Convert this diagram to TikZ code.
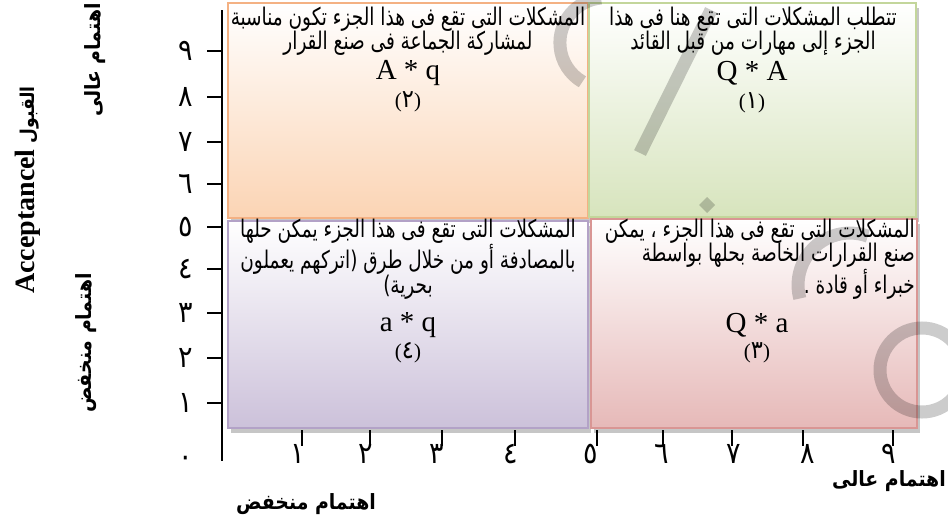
\documentclass[tikz,border=0pt]{standalone}
\usepackage{fontspec}
\setmainfont{Liberation Serif}
\newfontfamily\arabicfont[Script=Arabic,FakeStretch=0.9]{DejaVu Sans}
\newfontfamily\arabicnarrow[Script=Arabic,FakeStretch=0.76]{DejaVu Sans}
\newcommand{\tagdig}[1]{{\arabicfont\fontsize{25}{25}\selectfont #1}}
\TeXXeTstate=1
\usetikzlibrary{shadows}
\definecolor{peachline}{HTML}{F4B183}
\definecolor{peachfill}{HTML}{FBD4B4}
\definecolor{greenline}{HTML}{C3D69B}
\definecolor{greenfill}{HTML}{D7E4BD}
\definecolor{purpleline}{HTML}{B3A2C7}
\definecolor{purplefill}{HTML}{CCC1DA}
\definecolor{redline}{HTML}{D99694}
\definecolor{redfill}{HTML}{E6B9B8}
\begin{document}
\begin{tikzpicture}[x=1pt,y=-1pt,
  quad/.style={inner sep=0pt, outer sep=0pt, line width=2pt, top color=white, anchor=north west,
    general shadow={shadow xshift=3pt, shadow yshift=-5pt, fill=gray!45}},
  quadtext/.style={inner sep=0pt, align=center, font=\arabicnarrow\fontsize{24.3}{24.5}\selectfont},
  formula/.style={inner sep=0pt, font=\fontsize{29}{29}\selectfont},
  numtag/.style={inner sep=0pt, font=\fontsize{21}{21}\selectfont},
  ticklabel/.style={inner sep=0pt, font=\arabicfont\fontsize{30}{30}\selectfont},
  axislabel/.style={inner sep=0pt, font=\arabicfont\bfseries\fontsize{21}{21}\selectfont},
  axisline/.style={line width=1.5pt, black},
  wm/.style={line width=13pt, black, opacity=0.2}]
\useasboundingbox (0,0) rectangle (948,520);

% quadrants
\node[quad, bottom color=peachfill, draw=peachline, minimum width=360pt, minimum height=215pt] (q2) at (228,3) {};
\node[quad, bottom color=greenfill, draw=greenline, minimum width=327pt, minimum height=214pt] (q1) at (589,3) {};
\node[quad, bottom color=purplefill, draw=purpleline, minimum width=360pt, minimum height=207pt] (q4) at (228,221) {};
\node[quad, bottom color=redfill, draw=redline, minimum width=326pt, minimum height=209pt] (q3) at (591,219) {};

% watermark
\draw[wm] (601,-2) arc[start angle=265, end angle=120, radius=45];
\draw[wm] (711,10) -- (640,153);
\fill[black, opacity=0.2] (707,197) -- (715,205) -- (707,213) -- (699,205) -- cycle;
\draw[wm] (799.8,298.5) arc[start angle=165, end angle=290, radius=52];
\draw[wm] (922,370) circle[radius=42];

% vertical axis
\draw[axisline] (222,10) -- (222,461);
\foreach \yy in {51,97,142,184,227,269,313,358,403}
  \draw[axisline] (207,\yy) -- (222,\yy);
\foreach \yy/\d [count=\i] in {403/١,358/٢,313/٣,269/٤,227/٥,184/٦,142/٧,97/٨,51/٩}
  \node[ticklabel] (yl\i) at (186,\yy) {\d};
\node[ticklabel] (yl0) at (186,461) {٠};

% horizontal axis ticks
\foreach \xx in {302,370,442,515,597,663,732,803,893}
  \draw[axisline] (\xx,430) -- (\xx,446);
\foreach \xx/\d [count=\i] in {298/١,366/٢,437/٣,511/٤,591/٥,662/٦,734/٧,808/٨,889/٩}
  \node[ticklabel] (xl\i) at (\xx,454) {\d};

% quadrant texts
\node[quadtext] (t2) at (408,31) {\beginR المشكلات التى تقع فى هذا الجزء تكون مناسبة\endR\\\beginR لمشاركة الجماعة فى صنع القرار\endR};
\node[formula] (f2) at (408,73) {A * q};
\node[numtag] (n2) at (408,102) {(\tagdig{٢})};

\node[quadtext] (t1) at (753,31) {\beginR تتطلب المشكلات التى تقع هنا فى هذا\endR\\\beginR الجزء إلى مهارات من قبل القائد\endR};
\node[formula] (f1) at (752,73) {Q * A};
\node[numtag] (n1) at (752,103) {(\tagdig{١})};

\node[quadtext] (t4) at (408,259) {\beginR المشكلات التى تقع فى هذا الجزء يمكن حلها\endR\\\beginR بالمصادفة أو من خلال طرق (اتركهم يعملون\endR\\\beginR بحرية)\endR};
\node[formula] (f4) at (408,325) {a * q};
\node[numtag] (n4) at (408,353) {(\tagdig{٤})};

\node[quadtext, align=right, anchor=east] (t3) at (915,259) {\beginR المشكلات التى تقع فى هذا الجزء ، يمكن\endR\\\beginR صنع القرارات الخاصة بحلها بواسطة\endR\\\beginR خبراء أو قادة .\endR};
\node[formula] (f3) at (757,325) {Q * a};
\node[numtag] (n3) at (757,353) {(\tagdig{٣})};

% axis titles
\node[axislabel] (bx1) at (889,481) {\beginR اهتمام عالى\endR};
\node[axislabel] (bx2) at (306,504) {\beginR اهتمام منخفض\endR};
\node[axislabel, rotate=90] (ly1) at (95,60) {\beginR اهتمام عالى\endR};
\node[axislabel, rotate=90] (ly2) at (86,343) {\beginR اهتمام منخفض\endR};
\node[inner sep=0pt, rotate=90, font=\bfseries\fontsize{28}{28}\selectfont] (ly0) at (28,190) {Acceptancel\hspace{6pt}{\arabicfont\fontsize{19}{19}\selectfont\beginR القبول\endR}};
\end{tikzpicture}
\end{document}
